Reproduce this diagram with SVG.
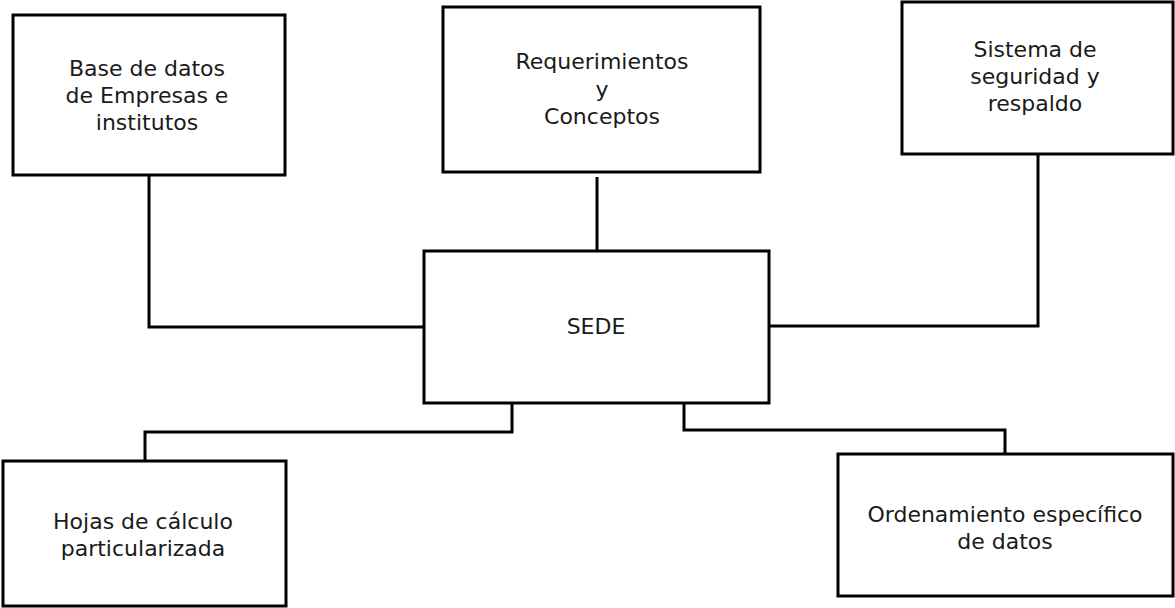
<svg xmlns="http://www.w3.org/2000/svg" width="1175" height="608" viewBox="0 0 1175 608">
<style>
.box{fill:#fff;stroke:#000;stroke-width:3}
.lbl{font-family:"DejaVu Sans",Verdana,sans-serif;font-size:22px;fill:#1a1a1a;text-anchor:middle}
.wire{fill:none;stroke:#000;stroke-width:3}
</style>
<rect width="1175" height="608" fill="#fff"/>
<g id="connectors">
<polyline class="wire" points="149,175 149,327 424,327"/>
<polyline class="wire" points="597,177 597,251"/>
<polyline class="wire" points="1038,154 1038,326 769,326"/>
<polyline class="wire" points="512,403 512,432 145,432 145,461"/>
<polyline class="wire" points="684,403 684,430 1005,430 1005,454"/>
</g>
<g id="base-datos">
<rect class="box" x="13" y="15" width="272" height="160"/>
<text class="lbl" x="147" y="76">Base de datos</text>
<text class="lbl" x="147" y="103">de Empresas e</text>
<text class="lbl" x="147" y="130">institutos</text>
</g>
<g id="requerimientos">
<rect class="box" x="443" y="7" width="317" height="165"/>
<text class="lbl" x="602" y="69">Requerimientos</text>
<text class="lbl" x="602" y="97">y</text>
<text class="lbl" x="602" y="124">Conceptos</text>
</g>
<g id="seguridad">
<rect class="box" x="902" y="2" width="271" height="152"/>
<text class="lbl" x="1035" y="57">Sistema de</text>
<text class="lbl" x="1035" y="84">seguridad y</text>
<text class="lbl" x="1035" y="111">respaldo</text>
</g>
<g id="sede">
<rect class="box" x="424" y="251" width="345" height="152"/>
<text class="lbl" x="596" y="334">SEDE</text>
</g>
<g id="hojas">
<rect class="box" x="3" y="461" width="283" height="145"/>
<text class="lbl" x="143" y="529">Hojas de cálculo</text>
<text class="lbl" x="143" y="556">particularizada</text>
</g>
<g id="ordenamiento">
<rect class="box" x="838" y="454" width="335" height="142"/>
<text class="lbl" x="1005" y="522">Ordenamiento específico</text>
<text class="lbl" x="1005" y="549">de datos</text>
</g>
</svg>
